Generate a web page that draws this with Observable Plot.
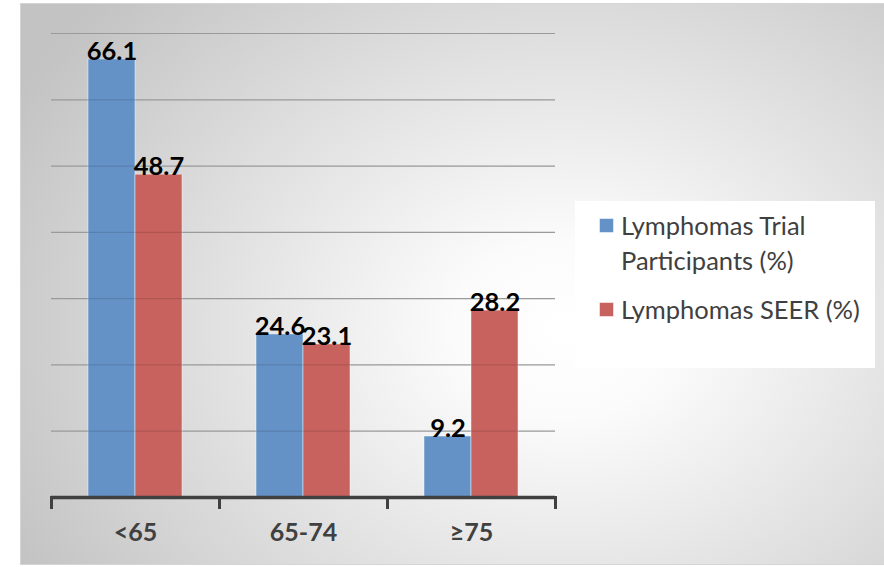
<!DOCTYPE html>
<html>
<head>
<meta charset="utf-8">
<script src="https://cdn.jsdelivr.net/npm/d3@7"></script>
<script src="https://cdn.jsdelivr.net/npm/@observablehq/plot@0.6"></script>
<style>
  html, body { margin: 0; padding: 0; background: #ffffff; }
  #wrap { position: relative; width: 884px; height: 567px; overflow: hidden; font-family: Lato, "Open Sans", sans-serif; }
  #bg { position: absolute; left: 20px; top: 3px; width: 866px; height: 562px; box-sizing: border-box;
        border: 1px solid #d4d4d4;
        background: radial-gradient(ellipse 72% 88% at 63% 58%, #ffffff 0%, #fbfbfb 18%, #c3c3c3 100%); }
  #chart { position: absolute; left: 0; top: 0; }
  #legend { position: absolute; left: 0; top: 0; }
</style>
</head>
<body>
<div id="wrap">
  <div id="bg"></div>
  <div id="chart"></div>
  <div id="legend"></div>
</div>
<script>
const categories = ["<65", "65-74", "≥75"];
const seriesNames = ["Lymphomas Trial Participants (%)", "Lymphomas SEER (%)"];
const legendLines = [["Lymphomas Trial", "Participants (%)"], ["Lymphomas SEER (%)"]];
const trialValues = [66.1, 24.6, 9.2];
const seerValues = [48.7, 23.1, 28.2];
const seriesColors = ["#6592c6", "#c8625f"];
const gridTicks = [10, 20, 30, 40, 50, 60, 70];

const data = categories.flatMap((c, i) => [
  {category: c, series: seriesNames[0], value: trialValues[i]},
  {category: c, series: seriesNames[1], value: seerValues[i]}
]);

const chart = Plot.plot({
  width: 884,
  height: 567,
  marginLeft: 50,
  marginRight: 328,
  marginTop: 33,
  marginBottom: 70,
  style: {background: "transparent", fontFamily: "Lato, 'Open Sans', sans-serif", fontSize: "25px", fontWeight: "bold", color: "#404040", overflow: "visible"},
  fx: {domain: categories, padding: 0, label: null, tickSize: 0, tickPadding: 26, axis: "bottom"},
  x: {domain: seriesNames, paddingInner: 0, paddingOuter: 0.757, axis: null},
  y: {domain: [0, 70], axis: null},
  color: {domain: seriesNames, range: seriesColors},
  marks: [
    Plot.ruleY(gridTicks, {stroke: "#b0b0b0", strokeWidth: 1.2}),
    Plot.barY(data, {fx: "category", x: "series", y: "value", fill: "series", stroke: "#ffffff", strokeOpacity: 0.45, strokeWidth: 1}),
    Plot.ruleY(gridTicks, {stroke: "#000000", strokeOpacity: 0.12, strokeWidth: 1.2}),
    Plot.ruleY([0], {stroke: "#404040", strokeWidth: 3.5}),
    Plot.frame({anchor: "left", stroke: "#404040", strokeWidth: 3, insetTop: 464, insetBottom: -10}),
    Plot.frame({anchor: "right", stroke: "#404040", strokeWidth: 3, insetTop: 464, insetBottom: -10}),
    Plot.text(data, {fx: "category", x: "series", y: "value", text: d => d.value.toFixed(1), dy: -8, fill: "#000000", fontSize: 25.5, fontWeight: "bold", lineAnchor: "middle"})
  ]
});
document.getElementById("chart").appendChild(chart);

// Legend
const leg = d3.select("#legend").append("svg").attr("width", 884).attr("height", 567);
leg.append("rect").attr("x", 575).attr("y", 201).attr("width", 300).attr("height", 167).attr("fill", "#ffffff");
const baselines = [[235, 270], [319]];
seriesNames.forEach((s, i) => {
  const b = baselines[i][0];
  leg.append("rect").attr("x", 599.5).attr("y", b - 16.5).attr("width", 14).attr("height", 14)
    .attr("fill", seriesColors[i]).attr("stroke", "#ffffff").attr("stroke-opacity", 0.5);
  legendLines[i].forEach((line, j) => {
    leg.append("text").attr("x", 621).attr("y", baselines[i][j])
      .attr("font-family", "Lato, 'Open Sans', sans-serif").attr("font-size", 25.5)
      .attr("fill", "#404040").text(line);
  });
});
</script>
</body>
</html>
